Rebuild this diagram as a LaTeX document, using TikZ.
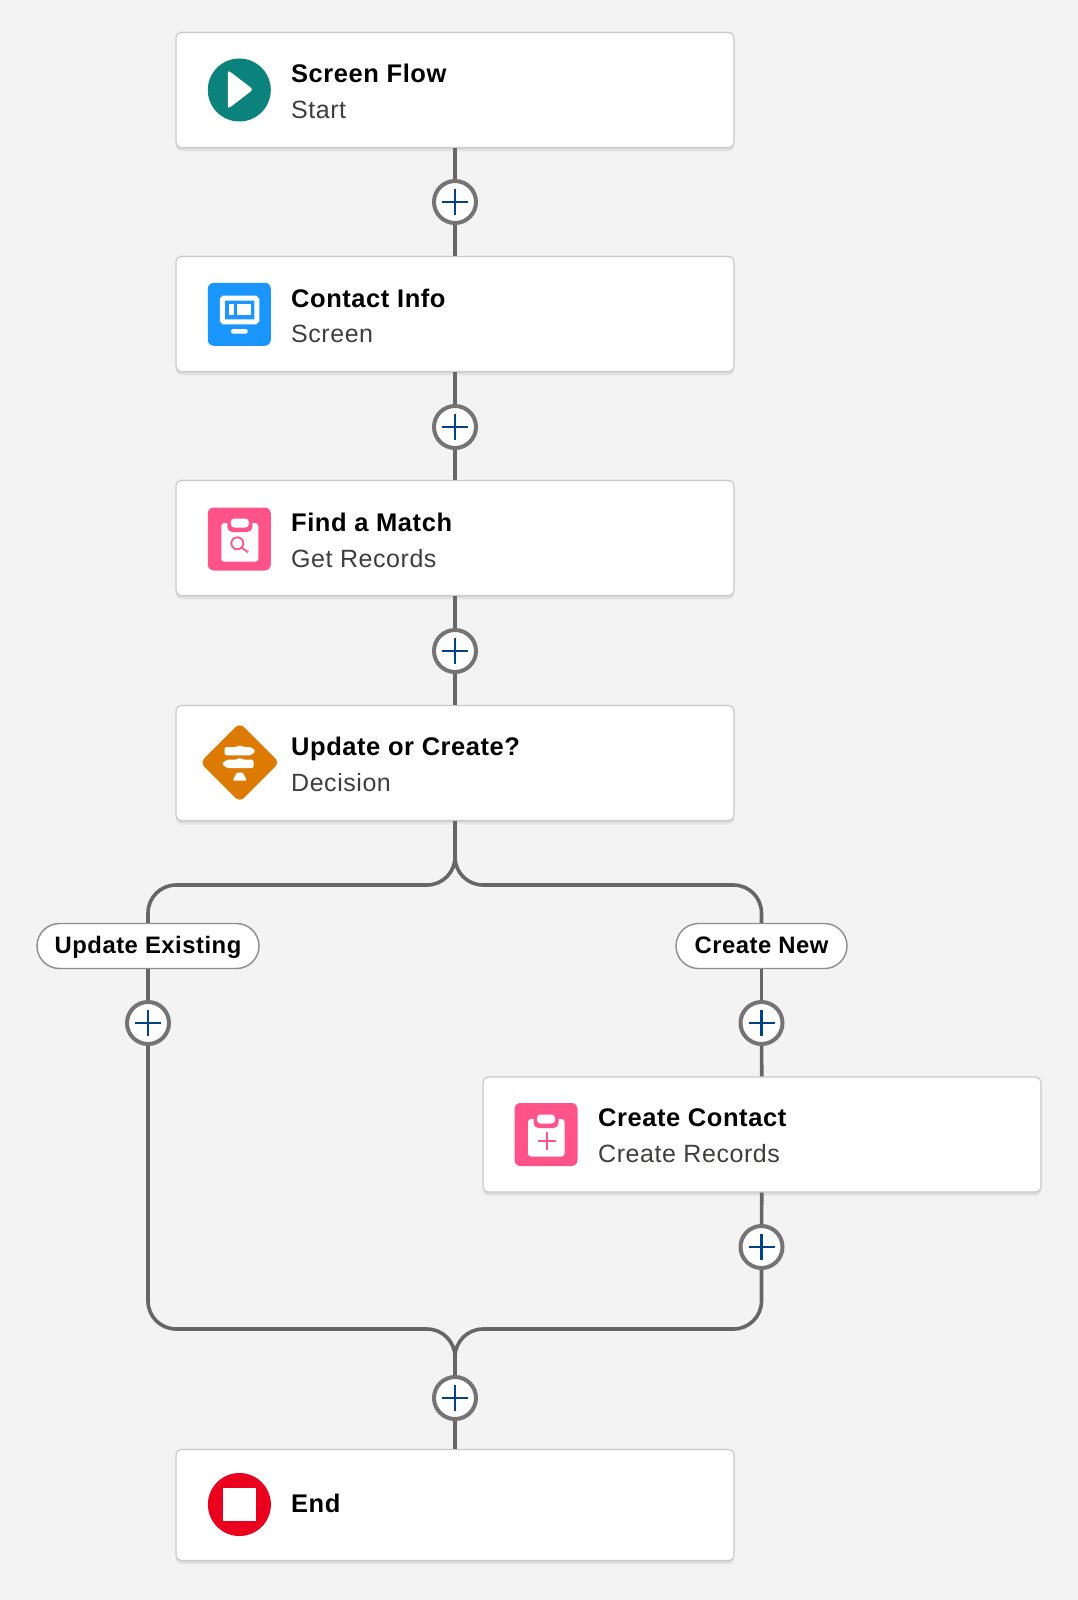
\documentclass[tikz,border=0pt]{standalone}
\usepackage{fontspec}
\setmainfont[LetterSpace=2.2]{Liberation Sans}
\usetikzlibrary{shapes, positioning, calc, shadows}
\definecolor{canvasbg}{RGB}{243, 243, 243}
\definecolor{cardline}{RGB}{201, 201, 201}
\definecolor{flowgray}{RGB}{102, 102, 102}
\definecolor{plusring}{RGB}{116, 116, 116}
\definecolor{plusblue}{RGB}{1, 68, 134}
\definecolor{startteal}{RGB}{11, 130, 124}
\definecolor{screenblue}{RGB}{27, 150, 255}
\definecolor{recordpink}{RGB}{255, 83, 138}
\definecolor{decideorange}{RGB}{221, 122, 1}
\definecolor{endred}{RGB}{234, 0, 30}
\definecolor{subtext}{RGB}{62, 62, 60}
\tikzset{
  x=1pt, y=-1pt,
  card/.style={draw=cardline, line width=1.2pt, fill=white, rounded corners=5pt, minimum width=558pt, minimum height=115pt, drop shadow={shadow xshift=0pt, shadow yshift=-4pt, opacity=0.07}, drop shadow={shadow xshift=0pt, shadow yshift=-2.5pt, opacity=0.14}},
  plusbtn/.style={circle, draw=plusring, line width=4pt, fill=white, minimum size=42pt, inner sep=0pt},
  flowline/.style={draw=flowgray, line width=3.6pt},
  branchtag/.style={draw=cardline!70!black, line width=1.4pt, fill=white, rounded corners=22.5pt, minimum height=45pt, inner sep=0pt, text height=21.5pt, text depth=6pt, font=\fontsize{23.8}{28}\selectfont\bfseries, text=black},
  cardtitle/.style={anchor=base west, inner sep=0pt, font=\fontsize{25.5}{30}\selectfont\bfseries, text=black},
  cardsub/.style={anchor=base west, inner sep=0pt, font=\fontsize{25}{30}\selectfont, text=subtext},
  iconsq/.style={rounded corners=6pt, minimum size=63pt, inner sep=0pt},
  iconcirc/.style={circle, minimum size=63pt, inner sep=0pt}
}
\begin{document}
\begin{tikzpicture}
  \useasboundingbox[fill=canvasbg] (0,0) rectangle (1078,1600);

  % Cards
  \node[card] (start) at (455, 90) {};
  \node[card] (contact) at (455, 314) {};
  \node[card] (find) at (455, 538) {};
  \node[card] (decide) at (455, 763) {};
  \node[card] (create) at (762, 1134.5) {};
  \node[card, minimum height=111pt] (finish) at (455, 1505) {};

  % Branch labels
  \node[branchtag, minimum width=222pt] (updatetag) at (148, 946) {Update Existing};
  \node[branchtag, minimum width=171pt] (newtag) at (761.5, 946) {Create New};

  % Plus buttons
  \node[plusbtn] (add1) at (455, 202) {};
  \node[plusbtn] (add2) at (455, 427) {};
  \node[plusbtn] (add3) at (455, 651) {};
  \node[plusbtn] (addleft) at (148, 1023) {};
  \node[plusbtn] (addright) at (761.5, 1023) {};
  \node[plusbtn] (addcreate) at (761.5, 1247) {};
  \node[plusbtn] (addend) at (455, 1398) {};
  \foreach \btn in {add1, add2, add3, addleft, addright, addcreate, addend}
    \draw[plusblue, line width=2.8pt] ($(\btn.center)+(-13,0)$) -- ++(26,0) ($(\btn.center)+(0,-13)$) -- ++(0,26);

  % Connectors
  \coordinate (forky) at (0, 885);
  \coordinate (mergey) at (0, 1329);
  \draw[flowline] (start) -- (add1);
  \draw[flowline] (add1) -- (contact);
  \draw[flowline] (contact) -- (add2);
  \draw[flowline] (add2) -- (find);
  \draw[flowline] (find) -- (add3);
  \draw[flowline] (add3) -- (decide);
  \draw[flowline, rounded corners=28pt] (decide.south) -- (decide.south |- forky) -- (updatetag.north |- forky) -- (updatetag.north);
  \draw[flowline, rounded corners=28pt] (decide.south) -- (decide.south |- forky) -- (newtag.north |- forky) -- (newtag.north);
  \draw[flowline] (updatetag) -- (addleft);
  \draw[flowline] (newtag) -- (addright);
  \draw[flowline] (addright) -- (create);
  \draw[flowline] (create) -- (addcreate);
  \draw[flowline, rounded corners=28pt] (addleft.south) -- (addleft.south |- mergey) -- (addend.north |- mergey) -- (addend.north);
  \draw[flowline, rounded corners=28pt] (addcreate.south) -- (addcreate.south |- mergey) -- (addend.north |- mergey) -- (addend.north);
  \draw[flowline] (addend) -- (finish);

  % Start icon
  \node[iconcirc, fill=startteal] (starticon) at (239.3, 90) {};
  \fill[white, rounded corners=3pt] ($(starticon)+(-11.5,-20)$) -- ($(starticon)+(14,-0.5)$) -- ($(starticon)+(-11.5,19)$) -- cycle;
  \node[cardtitle] (starttitle) at (291, 82.3) {Screen Flow};
  \node[cardsub] (startsub) at (291, 118.5) {Start};

  % Screen icon
  \node[iconsq, fill=screenblue] (contacticon) at (239.3, 314.3) {};
  \draw[white, line width=5pt, rounded corners=1.5pt] ($(contacticon)+(-17,-16.2)$) rectangle ($(contacticon)+(17.5,7.5)$);
  \fill[white] ($(contacticon)+(-10.6,-10.3)$) rectangle ($(contacticon)+(-5,0.7)$);
  \fill[white] ($(contacticon)+(-2,-10.3)$) rectangle ($(contacticon)+(11.4,0.7)$);
  \fill[white, rounded corners=1.5pt] ($(contacticon)+(-8.3,14.7)$) rectangle ($(contacticon)+(8.4,19.4)$);
  \node[cardtitle] (contacttitle) at (291, 307) {Contact Info};
  \node[cardsub] (contactsub) at (291, 342.5) {Screen};

  % Get records icon
  \node[iconsq, fill=recordpink] (findicon) at (239.3, 539) {};
  \fill[white, rounded corners=3pt] ($(findicon)+(-18,-16)$) rectangle ($(findicon)+(19,22.7)$);
  \fill[recordpink, rounded corners=5pt] ($(findicon)+(-12,-22)$) rectangle ($(findicon)+(13,-7)$);
  \fill[white, rounded corners=3.5pt] ($(findicon)+(-8.5,-20.5)$) rectangle ($(findicon)+(9.5,-11.5)$);
  \draw[recordpink, line width=1.8pt] ($(findicon)+(-2,4.3)$) circle[radius=6pt];
  \draw[recordpink, line width=1.8pt] ($(findicon)+(2.5,8.8)$) -- ($(findicon)+(9,13.3)$);
  \node[cardtitle] (findtitle) at (291, 531) {Find a Match};
  \node[cardsub] (findsub) at (291, 567.5) {Get Records};

  % Decision icon
  \node[fill=decideorange, rotate=45, rounded corners=6pt, minimum size=56pt, inner sep=0pt] (decideicon) at (239.8, 762.5) {};
  \fill[white, rounded corners=1.5pt] ($(decideicon)+(-15.2,-15.5)$) -- ($(decideicon)+(-2.5,-15.5)$) -- ($(decideicon)+(-2.5,-16.8)$) -- ($(decideicon)+(2.5,-16.8)$) -- ($(decideicon)+(2.5,-15.5)$) -- ($(decideicon)+(11,-15.5)$) -- ($(decideicon)+(16,-11.3)$) -- ($(decideicon)+(11,-7.2)$) -- ($(decideicon)+(-15.2,-7.2)$) -- cycle;
  \fill[white, rounded corners=1.5pt] ($(decideicon)+(-13,-2.8)$) -- ($(decideicon)+(-2.5,-2.8)$) -- ($(decideicon)+(-2.5,-4.2)$) -- ($(decideicon)+(2.5,-4.2)$) -- ($(decideicon)+(2.5,-2.8)$) -- ($(decideicon)+(13.8,-2.8)$) -- ($(decideicon)+(13.8,5.5)$) -- ($(decideicon)+(-13,5.5)$) -- ($(decideicon)+(-18,1.3)$) -- cycle;
  \fill[white, rounded corners=1pt] ($(decideicon)+(-3,10)$) -- ($(decideicon)+(3,10)$) -- ($(decideicon)+(7,18)$) -- ($(decideicon)+(-7,18)$) -- cycle;
  \node[cardtitle] (decidetitle) at (291, 755) {Update or Create?};
  \node[cardsub] (decidesub) at (291, 791.7) {Decision};

  % Create records icon
  \node[iconsq, fill=recordpink] (createicon) at (546, 1134.5) {};
  \fill[white, rounded corners=3pt] ($(createicon)+(-18,-15.5)$) rectangle ($(createicon)+(18.5,22)$);
  \fill[recordpink, rounded corners=5pt] ($(createicon)+(-12.5,-21.5)$) rectangle ($(createicon)+(12.5,-6.5)$);
  \fill[white, rounded corners=3.5pt] ($(createicon)+(-9,-20)$) rectangle ($(createicon)+(9,-11)$);
  \draw[recordpink, line width=1.8pt] ($(createicon)+(-8.3,6.5)$) -- ($(createicon)+(9.7,6.5)$) ($(createicon)+(0.7,-2.5)$) -- ($(createicon)+(0.7,15.5)$);
  \node[cardtitle] (createtitle) at (598, 1126) {Create Contact};
  \node[cardsub] (createsub) at (598, 1162.5) {Create Records};

  % End icon
  \node[iconcirc, fill=endred] (finishicon) at (239.4, 1504.5) {};
  \fill[white] ($(finishicon)+(-16.4,-16.4)$) rectangle ($(finishicon)+(16.4,16.4)$);
  \node[cardtitle] (finishtitle) at (291, 1512.5) {End};
\end{tikzpicture}
\end{document}
